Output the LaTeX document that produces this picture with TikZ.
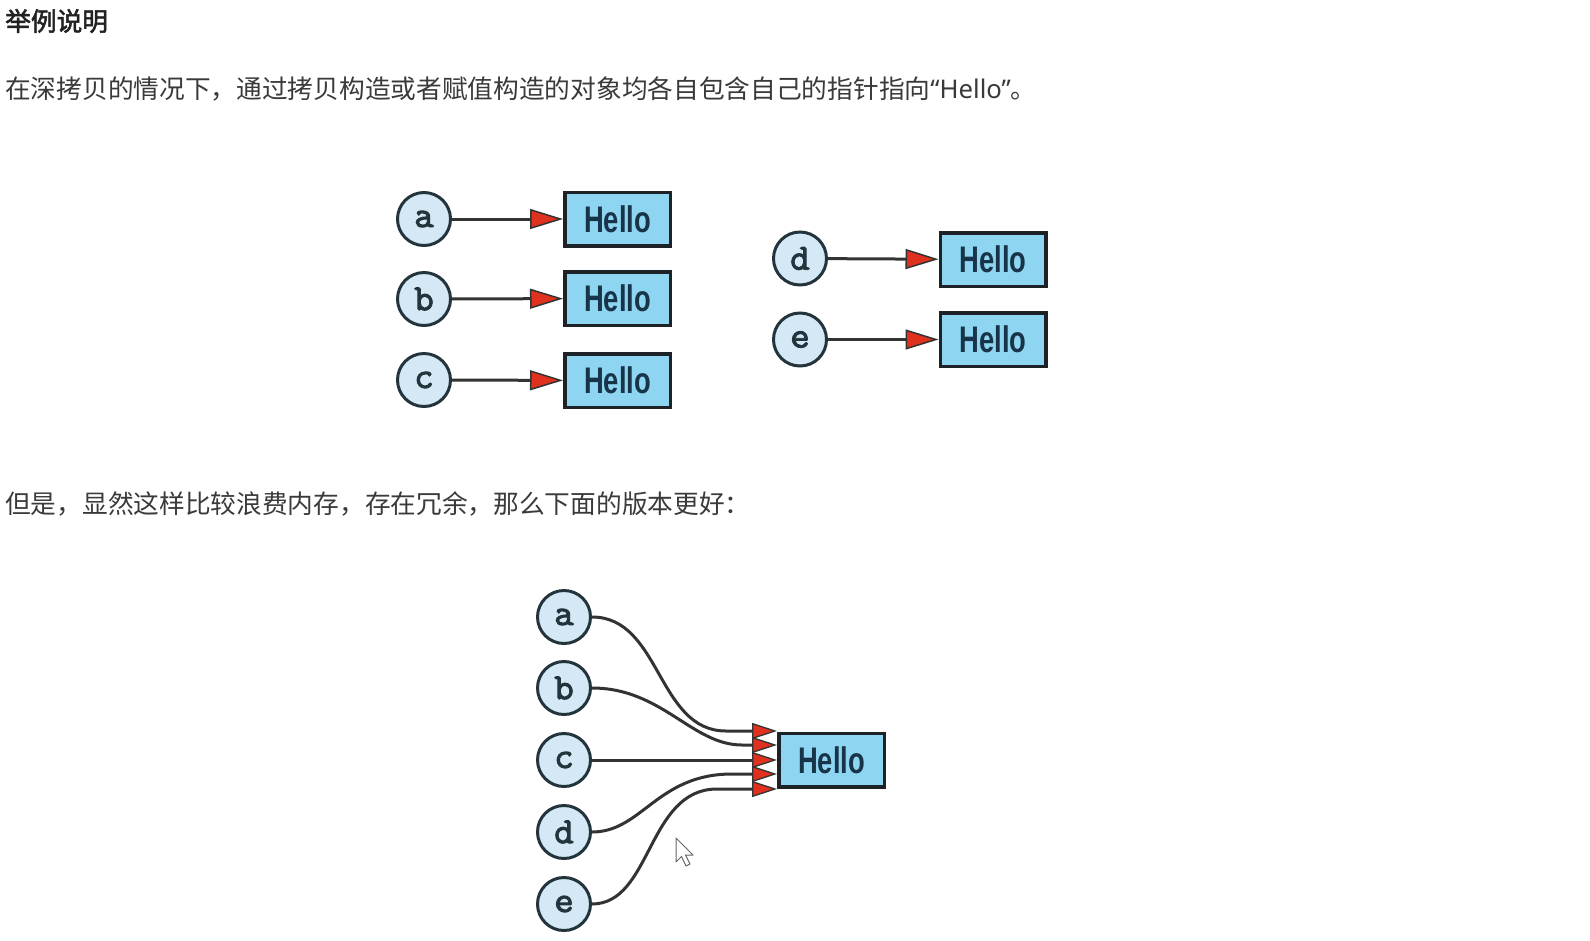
\documentclass[tikz,border=0pt]{standalone}
\usepackage{fontspec}
\usetikzlibrary{arrows.meta}
\newfontfamily\cjk{Noto Sans CJK SC}
\newfontfamily\cjkb{Noto Sans CJK SC}[FakeBold=2]
\newfontfamily\latinfont{Noto Sans}
\newfontfamily\hellofont{Liberation Sans}
\newfontfamily\letfont{lmmono10-regular.otf}[FakeBold=2.4]
\definecolor{txtgray}{HTML}{3A3A3A}
\definecolor{headgray}{HTML}{222222}
\definecolor{arrred}{HTML}{E0301E}
\definecolor{circfill}{HTML}{D4E9F5}
\definecolor{circdark}{HTML}{24343C}
\definecolor{boxfill}{HTML}{8ED5F1}
\definecolor{boxdark}{HTML}{1C2226}
\definecolor{hellocol}{HTML}{173448}
\definecolor{linedark}{HTML}{333333}
\tikzset{
  var/.style={circle, draw=circdark, fill=circfill, line width=3pt, minimum size=53pt, inner sep=0pt,
    text=circdark, font=\letfont\fontsize{37}{37}\selectfont},
  hellobox/.style={rectangle, draw=boxdark, fill=boxfill, line width=3.5pt, minimum width=105.5pt,
    minimum height=53.5pt, inner sep=0pt, text=hellocol, font=\hellofont\bfseries\fontsize{37}{37}\selectfont},
  ptr/.style={draw=linedark, line width=3pt, -{Triangle[length=33pt,width=20pt,fill=arrred,line width=1.5pt]}},
  ptrs/.style={draw=linedark, line width=3pt, -{Triangle[length=25pt,width=16pt,fill=arrred,line width=1.3pt]}},
  para/.style={anchor=west, inner sep=0pt, text=txtgray, font=\cjk\fontsize{25.7}{30}\selectfont},
}
\newcommand{\hello}{\scalebox{0.74}[1]{Hello}}
\begin{document}
\begin{tikzpicture}[x=1pt,y=-1pt]
\useasboundingbox[fill=white] (0,0) rectangle (1590,940);
% texts
\node[para, text=headgray, font=\cjkb\fontsize{25.7}{30}\selectfont] (h1) at (5,21) {举例说明};
\node[para] (t1) at (5,89) {在深拷贝的情况下，通过拷贝构造或者赋值构造的对象均各自包含自己的指针指向{\latinfont “Hello”}。};
\node[para] (t2) at (5,504) {但是，显然这样比较浪费内存，存在冗余，那么下面的版本更好：};
% diagram 1
\node[var] (a1) at (424,219) {a};
\node[var] (b1) at (424,299) {b};
\node[var] (c1) at (424,380) {c};
\node[hellobox] (A1) at (617.5,219) {\hello};
\node[hellobox] (B1) at (617.5,298.5) {\hello};
\node[hellobox] (C1) at (617.5,380.5) {\hello};
\node[var] (d1) at (800,258.5) {d};
\node[var] (e1) at (800,339.5) {e};
\node[hellobox] (D1) at (993,259.5) {\hello};
\node[hellobox] (E1) at (993,339.5) {\hello};
\draw[ptr] (a1) -- (A1);
\draw[ptr] (b1) -- (B1);
\draw[ptr] (c1) -- (C1);
\draw[ptr] (d1) -- (D1);
\draw[ptr] (e1) -- (E1);
% diagram 2
\node[var] (a2) at (564,617) {a};
\node[var] (b2) at (564,688) {b};
\node[var] (c2) at (564,760) {c};
\node[var] (d2) at (564,832) {d};
\node[var] (e2) at (564,904) {e};
\node[hellobox] (H) at (831.5,760) {\hello};
\draw[ptrs] (a2.east) .. controls +(69,0) and +(-69,0) .. ++(134,114) -- ([yshift=29pt]H.west);
\draw[ptrs] (b2.east) .. controls +(70,0) and +(-50,0) .. ++(150,57) -- ([yshift=15pt]H.west);
\draw[ptrs] (c2.east) -- (H.west);
\draw[ptrs] (d2.east) .. controls +(50,0) and +(-75,0) .. ++(140,-58) -- ([yshift=-14pt]H.west);
\draw[ptrs] (e2.east) .. controls +(60,0) and +(-70,0) .. ++(125,-115) -- ([yshift=-29pt]H.west);
% mouse cursor
\draw[fill=white, draw=gray!80!black, line width=1pt, line join=round]
  (676,838) -- ++(0,24) -- ++(5.5,-5.5) -- ++(4.5,9.5) -- ++(4,-2) -- ++(-4.5,-9) -- ++(7.5,0) -- cycle;
\end{tikzpicture}
\end{document}
